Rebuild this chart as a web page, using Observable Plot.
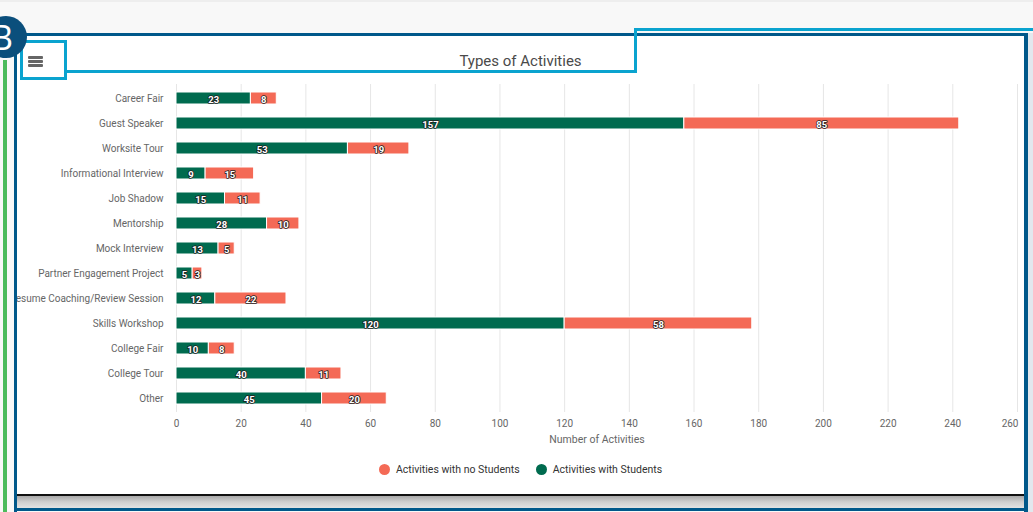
<!DOCTYPE html>
<html><head><meta charset="utf-8">
<script src="https://cdn.jsdelivr.net/npm/d3@7"></script>
<script src="https://cdn.jsdelivr.net/npm/@observablehq/plot@0.6"></script>
<style>
html,body{margin:0;padding:0}
body{width:1033px;height:512px;overflow:hidden;background:#f8f8f8;position:relative;font-family:Roboto,"Noto Sans",sans-serif}
.abs{position:absolute}
#card{left:17px;top:36px;width:1007px;height:458px;background:#fff;overflow:hidden}
#chart{position:absolute;left:-17px;top:-36px;width:1033px;height:512px}
#chart svg{max-width:none !important}
#title{left:0;width:1007px;top:16px;text-align:center;font-size:15px;color:#4a4a4a;white-space:nowrap}
#legend{top:427px;left:0;width:1007px;display:flex;justify-content:center;gap:16px;font-size:10.5px;color:#333}
#legend span{display:inline-flex;align-items:center;gap:6px}
#legend i{display:inline-block;width:11px;height:11px;border-radius:50%}
.burger{left:11px;height:3px;width:15px;background:#666;border-radius:1px}
</style></head><body>
<div class="abs" style="left:0;top:0;width:1033px;height:2px;background:#eeeeee"></div>
<div id="card" class="abs">
  <div id="chart"></div>
  <div id="title" class="abs">Types of Activities</div>
  <div id="legend" class="abs"></div>
  <div class="abs burger" style="top:20px"></div>
  <div class="abs burger" style="top:24px"></div>
  <div class="abs burger" style="top:28px"></div>
</div>
<!-- bottom strip -->
<div class="abs" style="left:17px;top:494px;width:1007px;height:2px;background:#111"></div>
<div class="abs" style="left:17px;top:496px;width:1007px;height:12px;background:linear-gradient(#a8a8a8,#cfcfcf 50%,#e2e2e2)"></div>
<!-- dark blue frame -->
<div class="abs" style="left:14px;top:33px;width:1014px;height:3px;background:#00588a"></div>
<div class="abs" style="left:14px;top:33px;width:3px;height:479px;background:#00588a"></div>
<div class="abs" style="left:1024px;top:33px;width:4px;height:479px;background:#00588a"></div>
<div class="abs" style="left:14px;top:508px;width:1014px;height:3px;background:#00588a"></div>
<div class="abs" style="left:1028px;top:33px;width:5px;height:479px;background:#e2e8ee"></div>
<!-- light blue highlight -->
<div class="abs" style="left:20px;top:40px;width:41px;height:34px;border:3px solid #0aa3cf"></div>
<div class="abs" style="left:67px;top:70px;width:570px;height:3px;background:#0aa3cf"></div>
<div class="abs" style="left:634px;top:28px;width:3px;height:45px;background:#0aa3cf"></div>
<div class="abs" style="left:634px;top:28px;width:399px;height:3px;background:#0aa3cf"></div>
<!-- green line -->
<div class="abs" style="left:3px;top:60px;width:4px;height:452px;background:#4cbb5c"></div>
<!-- B marker -->
<div class="abs" style="left:-15px;top:16px;width:42px;height:42px;border-radius:50%;background:#0b4f7c;overflow:hidden">
  <div class="abs" style="left:0;top:0;width:34px;height:42px;color:#fff;font-size:34px;line-height:42px;text-align:center;font-family:'Open Sans',sans-serif">B</div>
</div>
<script>
const categories = ["Career Fair","Guest Speaker","Worksite Tour","Informational Interview","Job Shadow","Mentorship","Mock Interview","Partner Engagement Project","Resume Coaching/Review Session","Skills Workshop","College Fair","College Tour","Other"];
const withStudents = [23,157,53,9,15,28,13,5,12,120,10,40,45];
const noStudents = [8,85,19,15,11,10,5,3,22,58,8,11,20];
const seriesNames = ["Activities with Students","Activities with no Students"];
const seriesColors = ["#006b4f","#f46a56"];
const legendOrder = ["Activities with no Students","Activities with Students"];
const xTicks = [0,20,40,60,80,100,120,140,160,180,200,220,240,260];
const xTitle = "Number of Activities";

const rows = categories.flatMap((c,i)=>[
  {cat:c, series:seriesNames[0], value:withStudents[i]},
  {cat:c, series:seriesNames[1], value:noStudents[i]}
]);
const lastTick = xTicks[xTicks.length-1];

const plot = Plot.plot({
  width:1033, height:512,
  marginLeft:176, marginRight:16, marginTop:84, marginBottom:100,
  style:{fontFamily:"Roboto, sans-serif", color:"#666", background:"transparent", overflow:"visible", maxWidth:"none"},
  x:{domain:[0,260], ticks:xTicks, label:null},
  y:{domain:categories, paddingInner:0.52, paddingOuter:0.26, label:null},
  color:{domain:seriesNames, range:seriesColors},
  marks:[
    Plot.gridX(xTicks, {stroke:"#e6e6e6", strokeOpacity:1}),
    Plot.barX(rows, Plot.stackX({x:"value", y:"cat", fill:"series", order:seriesNames, stroke:"#fff", strokeWidth:1, inset:0})),
    Plot.text(rows, Plot.stackX({x:"value", y:"cat", z:"series", order:seriesNames, text:"value", fill:"#fff", stroke:"#222", strokeWidth:1.6, fontSize:9.5, fontWeight:"bold", dy:1})),
    Plot.axisY({tickSize:0, tickPadding:13, fontSize:10, label:null}),
    Plot.axisX(xTicks.filter(t=>t!==lastTick), {tickSize:0, tickPadding:7, fontSize:10, label:null}),
    Plot.axisX([lastTick], {tickSize:0, tickPadding:7, fontSize:10, label:null, textAnchor:"end", dx:1}),
    Plot.text([xTitle], {frameAnchor:"bottom", dy:30, fontSize:10.5, fill:"#666"})
  ]
});
document.getElementById("chart").appendChild(plot);

const lg = document.getElementById("legend");
legendOrder.forEach(n=>{
  const s=document.createElement("span");
  const i=document.createElement("i");
  i.style.background=seriesColors[seriesNames.indexOf(n)];
  s.appendChild(i);
  s.appendChild(document.createTextNode(n));
  lg.appendChild(s);
});
</script>
</body></html>
